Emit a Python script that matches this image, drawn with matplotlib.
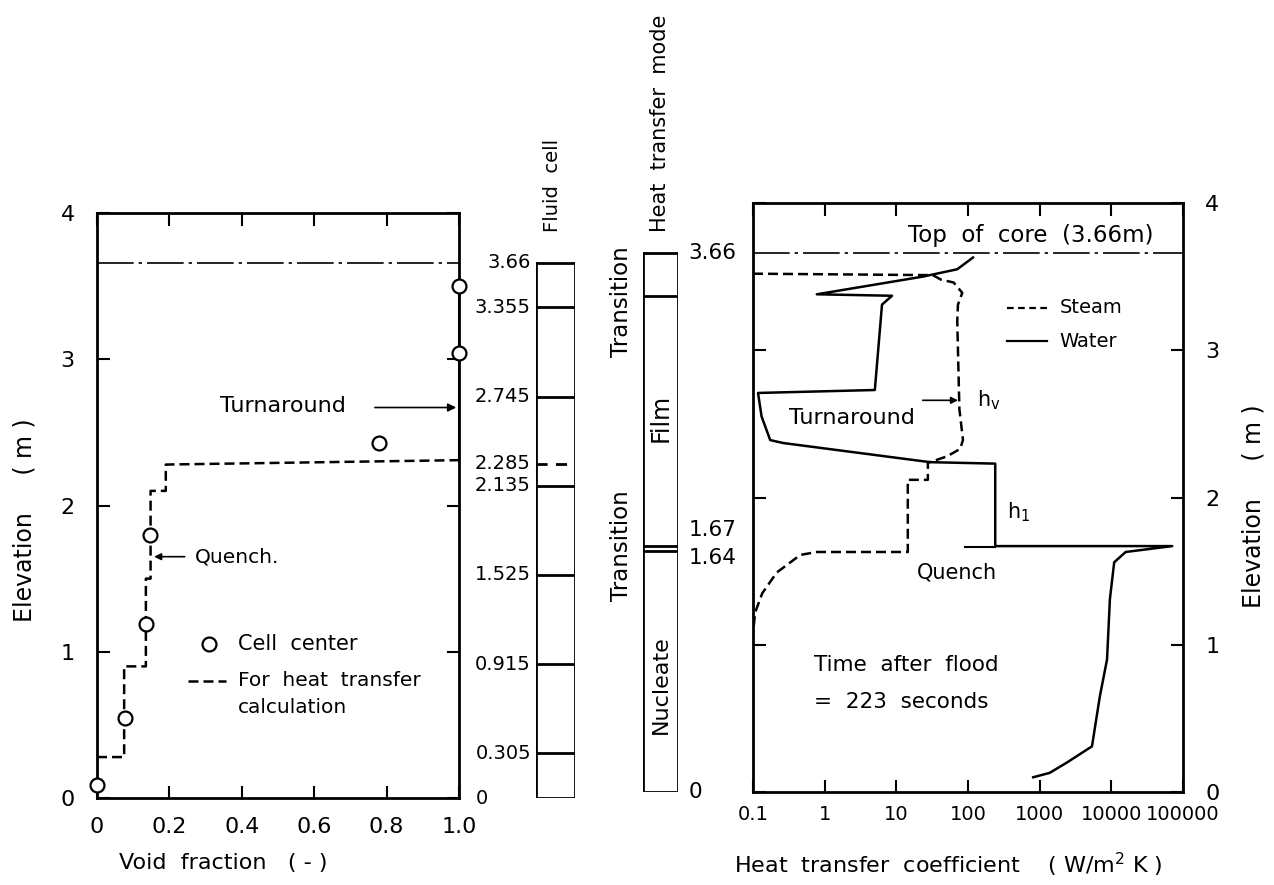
import matplotlib
matplotlib.use('Agg')
import matplotlib.pyplot as plt
import numpy as np

plt.rcParams['font.family'] = 'DejaVu Sans'

# --- left panel: void fraction ---
cell_void = [0.0, 0.076, 0.135, 0.146, 0.78, 1.0, 1.0]
cell_elev = [0.09, 0.55, 1.19, 1.80, 2.43, 3.04, 3.50]

calc_void = [0.0, 0.075, 0.075, 0.135, 0.135, 0.148, 0.148, 0.19, 0.19, 1.0]
calc_elev = [0.28, 0.28, 0.90, 0.90, 1.50, 1.50, 2.10, 2.10, 2.28, 2.31]

fluid_bounds = [3.66, 3.355, 2.745, 2.285, 2.135, 1.525, 0.915, 0.305]
fluid_labels = ['3.66', '3.355', '2.745', '2.285', '2.135', '1.525', '0.915', '0.305']

# --- right panel: heat transfer coefficient (log10 of h) ---
steam_logh = [-1.0, 1.51, 1.62, 1.80, 1.92, 1.86, 1.85, 1.88, 1.93, 1.89, 1.71,
              1.47, 1.44, 1.44, 1.16, 1.16, -0.11, -0.34, -0.67, -0.87, -0.97, -1.0]
steam_elev = [3.52, 3.51, 3.48, 3.46, 3.39, 3.31, 3.20, 2.60, 2.39, 2.33, 2.28,
              2.24, 2.24, 2.12, 2.12, 1.63, 1.63, 1.61, 1.49, 1.35, 1.22, 1.08]

water_logh = [2.07, 1.85, 1.37, -0.11, 0.94, 0.80, 0.70, -0.93, -0.88, -0.76, -0.58,
              1.47, 2.38, 2.38, 4.85, 4.20, 4.04, 3.98, 3.94, 3.84, 3.73, 3.38, 3.14, 2.91]
water_elev = [3.63, 3.55, 3.50, 3.38, 3.37, 3.31, 2.73, 2.71, 2.55, 2.39, 2.37,
              2.24, 2.23, 1.67, 1.67, 1.63, 1.56, 1.31, 0.90, 0.65, 0.31, 0.20, 0.13, 0.10]

mode_bounds = [3.66, 3.37, 1.67, 1.64, 0.0]
h_ticks = [0.1, 1, 10, 100, 1000, 10000, 100000]
h_tick_labels = ['0.1', '1', '10', '100', '1000', '10000', '100000']

W, H = 1274, 885
fig = plt.figure(figsize=(W / 100, H / 100), dpi=100)


def px_axes(x0, y0, x1, y1):
    return fig.add_axes([x0 / W, 1 - y1 / H, (x1 - x0) / W, (y1 - y0) / H])


def ftxt(x, y, s, **kw):
    fig.text(x / W, 1 - y / H, s, **kw)


core_ls = (0, (22, 3, 2, 3))
dash_ls = (0, (4, 2))
lw_frame = 2.0

# ---------------- left panel ----------------
ax1 = px_axes(97, 213, 459, 798)
ax1.set_xlim(0, 1)
ax1.set_ylim(0, 4)
ax1.axhline(3.66, color='k', lw=1.2, ls=core_ls)
ax1.plot(calc_void, calc_elev, color='k', lw=1.8, ls=dash_ls)
ax1.plot([1.0, 1.0], [cell_elev[-1], 2.31], color='k', lw=2.2)
ax1.plot(cell_void, cell_elev, 'o', ms=10, mfc='white', mec='k', mew=1.6, clip_on=False, zorder=5)
ax1.set_xticks([0, 0.2, 0.4, 0.6, 0.8, 1.0])
ax1.set_xticklabels(['0', '0.2', '0.4', '0.6', '0.8', '1.0'])
ax1.set_yticks([0, 1, 2, 3, 4])
ax1.tick_params(direction='in', length=9, width=1.5, top=True, right=True, labelsize=16)
ax1.tick_params(axis='x', pad=14)
ax1.tick_params(axis='y', pad=16)
for s in ax1.spines.values():
    s.set_linewidth(lw_frame)
ax1.set_xlabel('Void  fraction   ( - )', fontsize=16)
ax1.xaxis.set_label_coords(0.35, -0.094)
ax1.set_ylabel('Elevation     ( m )', fontsize=17)
ax1.yaxis.set_label_coords(-0.168, 0.475)

ax1.annotate('', xy=(1.0, 2.67), xytext=(0.76, 2.67),
             arrowprops=dict(arrowstyle='-|>', color='k', lw=1.2, mutation_scale=12))
ax1.text(0.34, 2.68, 'Turnaround', fontsize=16, va='center', ha='left')
ax1.annotate('', xy=(0.15, 1.65), xytext=(0.25, 1.65),
             arrowprops=dict(arrowstyle='-|>', color='k', lw=1.2, mutation_scale=10))
ax1.text(0.27, 1.65, 'Quench.', fontsize=14.5, va='center', ha='left')

# legend drawn by hand
ax1.plot([0.31], [1.05], 'o', ms=10, mfc='white', mec='k', mew=1.6)
ax1.text(0.39, 1.05, 'Cell  center', fontsize=15, va='center')
ax1.plot([0.25, 0.355], [0.80, 0.80], color='k', lw=1.8, ls=dash_ls)
ax1.text(0.39, 0.80, 'For  heat  transfer', fontsize=14.5, va='center')
ax1.text(0.39, 0.62, 'calculation', fontsize=14.5, va='center')

# ---------------- fluid cell column ----------------
axc = px_axes(536, 213, 575, 798)
axc.set_xlim(0, 1)
axc.set_ylim(0, 4)
axc.axis('off')
axc.plot([0, 0], [0, 3.66], color='k', lw=lw_frame)
axc.plot([1, 1], [0, 3.66], color='k', lw=lw_frame)
axc.plot([0, 1], [0, 0], color='k', lw=lw_frame)
for b, lab in zip(fluid_bounds, fluid_labels):
    ls = (0, (4, 3)) if lab == '2.285' else '-'
    axc.plot([0, 1], [b, b], color='k', lw=lw_frame, ls=ls)
    axc.text(-0.13, b, lab, fontsize=14, ha='right', va='center')
axc.text(-1.4, 0.0, '0', fontsize=14, ha='center', va='center')
ftxt(553, 185, 'Fluid  cell', fontsize=14, rotation=90, ha='center', va='center')

# ---------------- heat transfer mode column ----------------
axm = px_axes(643, 203, 678, 792)
axm.set_xlim(0, 1)
axm.set_ylim(0, 4)
axm.axis('off')
axm.plot([0, 0], [0, 3.66], color='k', lw=lw_frame)
axm.plot([1, 1], [0, 3.66], color='k', lw=lw_frame)
for b in mode_bounds:
    axm.plot([0, 1], [b, b], color='k', lw=lw_frame)
axm.text(1.3, 3.66, '3.66', fontsize=15.5, ha='left', va='center')
axm.text(1.3, 1.78, '1.67', fontsize=15.5, ha='left', va='center')
axm.text(1.3, 1.59, '1.64', fontsize=15.5, ha='left', va='center')
axm.text(1.3, 0.0, '0', fontsize=15.5, ha='left', va='center')
axm.text(-0.6, 3.33, 'Transition', fontsize=16.5, rotation=90, ha='center', va='center')
axm.text(-0.6, 1.67, 'Transition', fontsize=16.5, rotation=90, ha='center', va='center')
axm.text(0.5, 2.54, 'Film', fontsize=17, rotation=90, ha='center', va='center')
axm.text(0.5, 0.73, 'Nucleate', fontsize=16, rotation=90, ha='center', va='center')
ftxt(660, 123, 'Heat  transfer  mode', fontsize=15, rotation=90, ha='center', va='center')

# ---------------- right panel ----------------
ax2 = px_axes(753, 203, 1183, 792)
ax2.set_xscale('log')
ax2.set_xlim(0.1, 1e5)
ax2.set_ylim(0, 4)
ax2.axhline(3.66, color='k', lw=1.2, ls=core_ls)
ax2.plot(10 ** np.array(steam_logh), steam_elev, color='k', lw=1.8, ls=dash_ls)
ax2.plot(10 ** np.array(water_logh), water_elev, color='k', lw=1.8)
ax2.plot([90, 240], [1.665, 1.665], color='k', lw=1.5)
ax2.set_xticks(h_ticks)
ax2.set_xticklabels(h_tick_labels)
ax2.minorticks_off()
ax2.set_yticks([0, 1, 2, 3, 4])
ax2.yaxis.tick_right()
ax2.tick_params(direction='in', length=9, width=1.5, top=True, left=True, right=True,
                labelleft=False, labelright=True)
ax2.tick_params(axis='x', labelsize=14, pad=9)
ax2.tick_params(axis='y', labelsize=16, pad=16)
for s in ax2.spines.values():
    s.set_linewidth(lw_frame)
ax2.set_xlabel('Heat  transfer  coefficient    ( W/m$^2$ K )', fontsize=16)
ax2.xaxis.set_label_coords(0.455, -0.10)
ax2.yaxis.set_label_position('right')
ax2.set_ylabel('Elevation     ( m )', fontsize=17)
ax2.yaxis.set_label_coords(1.137, 0.486)

ax2.text(10 ** 1.16, 3.78, 'Top  of  core  (3.66m)', fontsize=16.5, va='center')
ax2.plot([10 ** 2.55, 10 ** 3.1], [3.29, 3.29], color='k', lw=1.6, ls=(0, (3, 2)))
ax2.text(10 ** 3.28, 3.29, 'Steam', fontsize=14, va='center')
ax2.plot([10 ** 2.55, 10 ** 3.1], [3.06, 3.06], color='k', lw=1.6)
ax2.text(10 ** 3.28, 3.06, 'Water', fontsize=14, va='center')
ax2.text(10 ** -0.5, 2.54, 'Turnaround', fontsize=16, va='center')
ax2.annotate('', xy=(10 ** 1.9, 2.66), xytext=(10 ** 1.33, 2.66),
             arrowprops=dict(arrowstyle='-|>', color='k', lw=1.2, mutation_scale=10))
ax2.text(10 ** 2.12, 2.66, r'h$_\mathregular{v}$', fontsize=15, va='center')
ax2.text(10 ** 2.55, 1.90, r'h$_\mathregular{1}$', fontsize=15, va='center')
ax2.text(10 ** 1.29, 1.49, 'Quench', fontsize=15, va='center')
ax2.text(10 ** -0.15, 0.86, 'Time  after  flood', fontsize=15.5, va='center')
ax2.text(10 ** -0.15, 0.61, '=  223  seconds', fontsize=15.5, va='center')

fig.savefig('out.png', dpi=100)
